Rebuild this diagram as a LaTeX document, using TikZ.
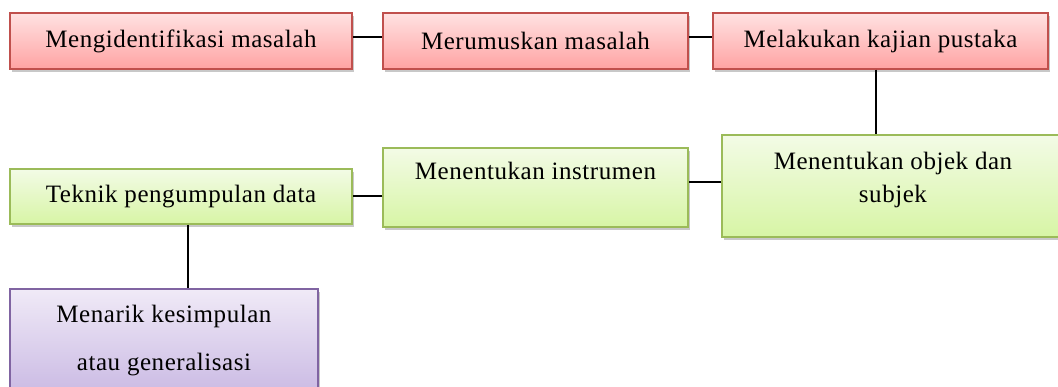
\documentclass[tikz,border=0pt]{standalone}
\usepackage{fontspec}
\setmainfont[LetterSpace=2.2]{Liberation Serif}
\usetikzlibrary{shadows}
\definecolor{redline}{RGB}{192,80,77}
\definecolor{redtop}{RGB}{255,226,226}
\definecolor{redbot}{RGB}{255,163,163}
\definecolor{greenline}{RGB}{155,187,89}
\definecolor{greentop}{RGB}{243,251,230}
\definecolor{greenbot}{RGB}{215,245,165}
\definecolor{purpleline}{RGB}{128,100,162}
\definecolor{purpletop}{RGB}{240,234,247}
\definecolor{purplebot}{RGB}{203,187,228}
\begin{document}
\begin{tikzpicture}[x=1pt,y=-1pt,
  box/.style={rectangle, line width=1.5pt, inner sep=0pt, align=center,
    font=\fontsize{25}{33}\selectfont,
    drop shadow={shadow xshift=1.5pt, shadow yshift=-3pt, opacity=0.3, fill=black!70}},
  redbox/.style={box, draw=redline, top color=redtop, bottom color=redbot},
  greenbox/.style={box, draw=greenline, top color=greentop, bottom color=greenbot},
  purplebox/.style={box, draw=purpleline, top color=purpletop, bottom color=purplebot,
    font=\fontsize{25}{48}\selectfont},
  link/.style={line width=1.6pt, black}]
\useasboundingbox[fill=white] (0,0) rectangle (1058,387);

\node[redbox, minimum width=342pt, minimum height=56pt] (b1) at (181,41) {Mengidentifikasi masalah};
\node[redbox, minimum width=305pt, minimum height=56pt] (b2) at (535.5,41) {Merumuskan masalah};
\node[redbox, minimum width=335pt, minimum height=56pt] (b3) at (880.5,41) {Melakukan kajian pustaka};

\node[greenbox, minimum width=342pt, minimum height=102pt] (b4) at (893,186) {Menentukan objek dan\\subjek\rule[-18pt]{0pt}{0pt}};
\node[greenbox, minimum width=305pt, minimum height=79pt] (b5) at (535.5,187.5) {Menentukan instrumen\rule[-33pt]{0pt}{0pt}};
\node[greenbox, minimum width=342pt, minimum height=55pt] (b6) at (181,196.5) {Teknik pengumpulan data};

\node[purplebox, minimum width=308pt, minimum height=103pt] (b7) at (164,340.5) {Menarik kesimpulan\\atau generalisasi};

\draw[link] ([yshift=4pt]b1.east) -- ([yshift=4pt]b2.west);
\draw[link] ([yshift=4pt]b2.east) -- ([yshift=4pt]b3.west);
\draw[link] ([xshift=-4.5pt]b3.south) -- ([xshift=-4.5pt]b3.south |- b4.north);
\draw[link] ([yshift=4pt]b4.west) -- ([yshift=4pt]b4.west -| b5.east);
\draw[link] ([yshift=0.5pt]b5.west |- b6.east) -- ([yshift=0.5pt]b6.east);
\draw[link] ([xshift=7pt]b6.south) -- ([xshift=7pt]b6.south |- b7.north);
\end{tikzpicture}
\end{document}
